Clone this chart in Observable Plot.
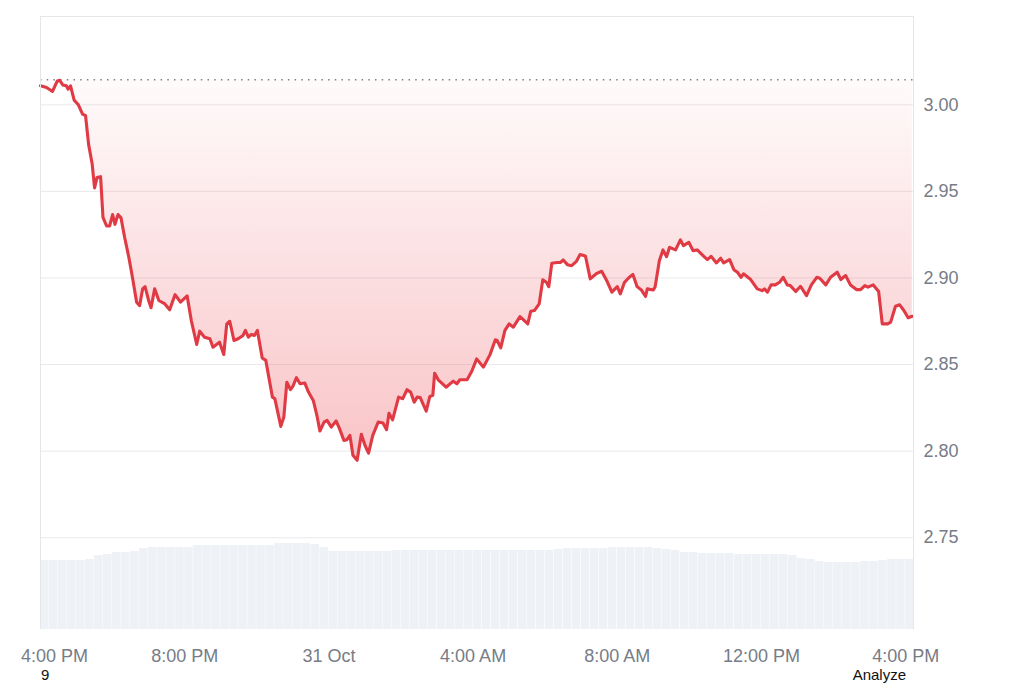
<!DOCTYPE html>
<html><head><meta charset="utf-8">
<script src="https://cdn.jsdelivr.net/npm/d3@7"></script>
<script src="https://cdn.jsdelivr.net/npm/@observablehq/plot@0.6"></script>
<style>
html,body{margin:0;padding:0;background:#fff;overflow:hidden}
#chart svg{display:block}
.below{position:relative;height:17px;font:15px "Liberation Sans",Arial,sans-serif;color:#111}
.below span{position:absolute;top:0.6px;line-height:16px}
</style></head><body>
<div id="chart"></div>
<div class="below"><span style="left:41px">9</span><span style="right:118px">Analyze</span></div>
<script>
// start of the window: 30 Oct, 4:00 PM
const startUTC = Date.UTC(2024, 9, 30, 16, 0);

// price series: [minutes after start, price]
const priceSeries = [
[0,3.011],[10,3.010],[20,3.0077],[28,3.0138],[32,3.0142],[37,3.0115],[43,3.011],[46,3.009],[50,3.011],[56,3.0027],
[63,3.000],[70,2.9946],[75,2.9937],[80,2.9773],[86,2.9658],[90,2.952],[94,2.958],[100,2.9585],[104,2.935],[110,2.930],
[115,2.930],[120,2.9366],[124,2.931],[129,2.9366],[134,2.9347],[140,2.9235],[147,2.912],[152,2.9024],[160,2.886],[165,2.884],
[170,2.8937],[174,2.895],[180,2.887],[184,2.8828],[190,2.8937],[197,2.887],[207,2.885],[215,2.8816],[224,2.8904],[233,2.886],
[244,2.8897],[251,2.8754],[260,2.8616],[265,2.8693],[273,2.8658],[282,2.8649],[287,2.860],[298,2.8629],[305,2.8558],[310,2.8735],
[315,2.875],[322,2.8639],[329,2.8649],[337,2.8668],[341,2.8697],[346,2.8658],[351,2.8674],[356,2.8668],[361,2.8697],[369,2.8538],
[375,2.8524],[386,2.8312],[390,2.8303],[400,2.8143],[405,2.8197],[410,2.8398],[416,2.8355],[420,2.8374],[426,2.8424],[432,2.8389],
[440,2.8393],[446,2.8341],[454,2.8293],[460,2.8207],[465,2.8116],[472,2.8168],[477,2.8178],[484,2.8139],[492,2.8174],[497,2.8136],
[505,2.8062],[510,2.8066],[515,2.8091],[520,2.7976],[527,2.7947],[534,2.8097],[540,2.8034],[546,2.7989],[553,2.8091],[562,2.8168],
[570,2.8162],[576,2.8124],[580,2.8219],[586,2.8181],[596,2.8312],[603,2.8303],[610,2.8355],[616,2.8341],[622,2.8283],[627,2.8312],
[632,2.8309],[642,2.8231],[648,2.8316],[653,2.8322],[656,2.845],[662,2.8412],[675,2.8369],[687,2.8404],[693,2.8389],[698,2.8412],
[710,2.8412],[718,2.8463],[726,2.8533],[737,2.8485],[748,2.8556],[757,2.8643],[760,2.8639],[766,2.8597],[773,2.8697],[780,2.8735],
[787,2.8716],[798,2.8777],[804,2.8758],[811,2.8735],[816,2.8808],[822,2.8812],[830,2.8851],[836,2.8989],[842,2.8975],[846,2.895],
[851,2.9085],[860,2.9089],[865,2.9089],[870,2.9104],[877,2.9077],[884,2.9071],[892,2.9096],[898,2.9135],[907,2.9127],[915,2.8995],
[926,2.9027],[934,2.9039],[943,2.8981],[951,2.8918],[960,2.895],[965,2.8908],[972,2.8975],[980,2.9004],[986,2.902],[993,2.895],
[1000,2.8931],[1007,2.8893],[1010,2.8937],[1020,2.8931],[1023,2.895],[1030,2.91],[1036,2.9162],[1042,2.9123],[1047,2.9177],[1057,2.9162],
[1065,2.922],[1070,2.9187],[1079,2.9206],[1086,2.9158],[1093,2.9162],[1104,2.9125],[1110,2.9106],[1116,2.9125],[1125,2.9087],[1132,2.9114],
[1137,2.9087],[1147,2.9106],[1154,2.9048],[1160,2.9033],[1166,2.9004],[1170,2.9024],[1182,2.8991],[1193,2.8937],[1201,2.8927],[1205,2.8937],
[1210,2.8918],[1216,2.896],[1223,2.896],[1230,2.8975],[1236,2.9004],[1243,2.896],[1248,2.8956],[1257,2.8922],[1265,2.8952],[1275,2.8898],
[1283,2.896],[1292,2.9004],[1297,2.8998],[1307,2.896],[1315,2.9004],[1326,2.9033],[1332,2.8991],[1340,2.9014],[1348,2.896],[1358,2.8933],
[1365,2.8933],[1372,2.8956],[1377,2.8947],[1386,2.896],[1395,2.8922],[1401,2.8735],[1410,2.8735],[1415,2.8745],[1423,2.8837],[1430,2.8845],
[1437,2.8812],[1444,2.877],[1451,2.8779]
];

// opening price (dotted reference line)
const openPrice = 3.0145;

// volume per 15-minute bar (relative units), starting at 4:00 PM
const volumes = [
69,69,69,69,69,70,74,75,77,77,78,81,82,82,82,82,82,84,84,84,
84,84,84,84,84,84,86,86,86,86,85,82,78,78,78,78,78,78,78,79,
79,79,79,79,79,79,79,79,79,79,79,79,79,79,79,79,79,80,81,81,
81,81,81,82,82,82,82,82,81,80,79,77,77,76,76,76,76,75,75,75,
75,75,75,74,71,70,68,67,67,67,67,68,68,69,70,70,70
];
const volumeAxisMax = 613; // volume value that would fill the whole plot height
const barMinutes = 15;

// axes
const yTicks = [2.75, 2.80, 2.85, 2.90, 2.95, 3.00];
const xTickMinutes = [0, 240, 480, 720, 960, 1200, 1440];
const xTickLabels = ["4:00 PM", "8:00 PM", "31 Oct", "4:00 AM", "8:00 AM", "12:00 PM", "4:00 PM"];
const yDomain = [2.697, 3.051];
const xDomainMinutes = [0, 1453];

const toDate = m => new Date(startUTC + m * 60000);
const priceData = priceSeries.map(([m, p]) => ({date: toDate(m), price: p}));
const volData = volumes.map((v, i) => ({start: toDate(i * barMinutes), end: toDate((i + 1) * barMinutes), vol: v}));
const xTicks = xTickMinutes.map(toDate);
const labelOf = new Map(xTicks.map((d, i) => [+d, xTickLabels[i]]));
const [yLo, yHi] = yDomain;

const defs = () => {
  const d = d3.create("svg:defs");
  const g = d.append("linearGradient").attr("id", "redfade").attr("x1", 0).attr("y1", 0).attr("x2", 0).attr("y2", 1);
  g.append("stop").attr("offset", "0%").attr("stop-color", "#ea3943").attr("stop-opacity", 0.02);
  g.append("stop").attr("offset", "100%").attr("stop-color", "#ea3943").attr("stop-opacity", 0.3);
  return d.node();
};

const chart = Plot.plot({
  width: 1024,
  height: 666,
  marginLeft: 40,
  marginRight: 111,
  marginTop: 16,
  marginBottom: 37,
  style: {fontSize: "18px", fontFamily: "'Liberation Sans', Arial, sans-serif", color: "#777c86", background: "#fff"},
  x: {type: "utc", domain: xDomainMinutes.map(toDate)},
  y: {domain: yDomain},
  marks: [
    defs,
    Plot.rect(volData, {x1: "start", x2: "end", y1: yLo, y2: d => yLo + d.vol * (yHi - yLo) / volumeAxisMax, fill: "#eef1f5", insetRight: 0.5, clip: true}),
    Plot.gridY(yTicks, {stroke: "#e9e9ec", strokeOpacity: 1, strokeWidth: 1}),
    Plot.areaY(priceData, {x: "date", y1: openPrice, y2: "price", fill: "url(#redfade)"}),
    Plot.ruleY([openPrice], {stroke: "#808080", strokeWidth: 1.6, strokeDasharray: "1.5,5.2"}),
    Plot.lineY(priceData, {x: "date", y: "price", stroke: "#e03a45", strokeWidth: 3.1, strokeLinejoin: "round"}),
    Plot.ruleY([yHi], {stroke: "#e6e6e8"}),
    Plot.ruleX(xDomainMinutes.map(toDate), {stroke: "#e6e6e8"}),
    Plot.axisY(yTicks, {anchor: "right", tickSize: 0, tickPadding: 10, tickFormat: d3.format(".2f"), label: null}),
    Plot.axisX(xTicks.slice(0, 1), {anchor: "bottom", tickSize: 0, tickPadding: 20, dx: 14, tickFormat: d => labelOf.get(+d), label: null}),
    Plot.axisX(xTicks.slice(1), {anchor: "bottom", tickSize: 0, tickPadding: 20, tickFormat: d => labelOf.get(+d), label: null})
  ]
});
document.getElementById("chart").append(chart);
</script>
</body></html>
